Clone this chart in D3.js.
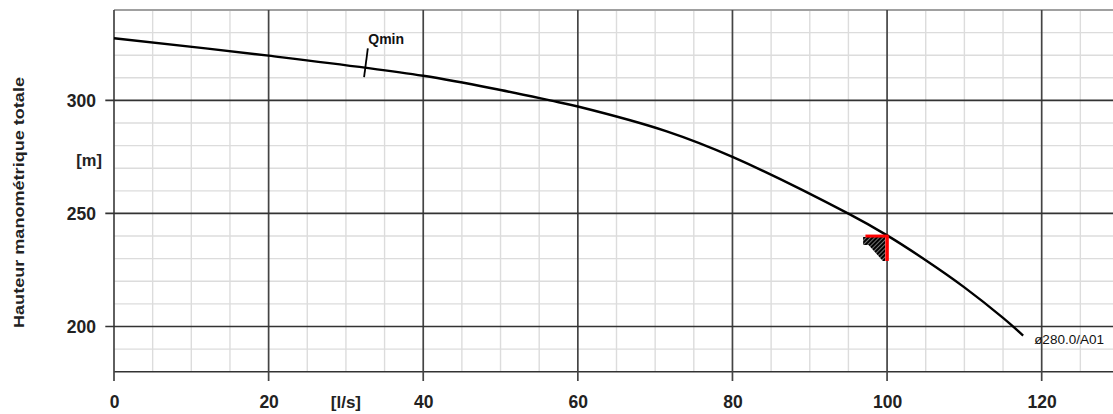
<!DOCTYPE html>
<html>
<head>
<meta charset="utf-8">
<script src="https://cdn.jsdelivr.net/npm/d3@7/dist/d3.min.js"></script>
<style>
  html, body { margin: 0; padding: 0; background: #fff; }
  svg { display: block; }
  text { font-family: "Liberation Sans", Arial, sans-serif; }
</style>
</head>
<body>
<svg id="chart" width="1113" height="414"></svg>
<script>
// ---- data ----
const flow = [0, 20, 40, 50, 56.4, 60, 71.5, 80, 95, 100, 105, 110, 115, 117.6];
const head = [327.5, 319.8, 310.9, 304.6, 300, 297.3, 286.3, 275.0, 249.9, 240.3, 229.3, 217.3, 203.8, 196.0];
const xMajorTicks = [0, 20, 40, 60, 80, 100, 120];
const xMinorTicks = [5, 10, 15, 25, 30, 35, 45, 50, 55, 65, 70, 75, 85, 90, 95, 105, 110, 115, 125, 130];
const yMajorTicks = [200, 250, 300];
const yMinorTicks = [190, 210, 220, 230, 240, 260, 270, 280, 290, 310, 320, 330];
const qminFlow = 32.5;
const qminLabel = "Qmin";
const curveLabel = "ø280.0/A01";
const yTitle = "Hauteur manométrique totale";
const opFlow = 100;
const opHead = 240;
const opRedFlowStart = 97.2;
const opRedHeadEnd = 229;
const hatchPoly = [[96.9, 239.6], [99.75, 239.6], [99.75, 229], [99.45, 229], [97.6, 236.1], [96.9, 236.1]];

(function () {
const svg = d3.select("#chart");
const mLeft = 114, mTop = 10, mBottom = 371.7, rightAt130 = 1119;
const x = d3.scaleLinear().domain([0, 130]).range([mLeft, rightAt130]);
const y = d3.scaleLinear().domain([180, 340]).range([mBottom, mTop]);

const defs = svg.append("defs");
const pat = defs.append("pattern").attr("id", "hatch").attr("patternUnits", "userSpaceOnUse")
  .attr("width", 3).attr("height", 3).attr("patternTransform", "rotate(45)");
pat.append("rect").attr("width", 3).attr("height", 3).attr("fill", "#000");
pat.append("line").attr("x1", 0).attr("y1", 0).attr("x2", 0).attr("y2", 3).attr("stroke", "#fff").attr("stroke-width", 0.9);

const g = svg.append("g");

// minor grid
g.selectAll(".vminor").data(xMinorTicks).join("line")
  .attr("x1", d => x(d)).attr("x2", d => x(d)).attr("y1", y(340)).attr("y2", y(180))
  .attr("stroke", "#dcdcdc").attr("stroke-width", 1.4);
g.selectAll(".hminor").data(yMinorTicks).join("line")
  .attr("x1", x(0)).attr("x2", x(130)).attr("y1", d => y(d)).attr("y2", d => y(d))
  .attr("stroke", "#dcdcdc").attr("stroke-width", 1.4);

// top border
g.append("line").attr("x1", x(0)).attr("x2", x(130)).attr("y1", y(340)).attr("y2", y(340))
  .attr("stroke", "#a0a0a0").attr("stroke-width", 2);
// bottom border
g.append("line").attr("x1", x(0)).attr("x2", x(130)).attr("y1", y(180)).attr("y2", y(180))
  .attr("stroke", "#333").attr("stroke-width", 1.6);

// major grid with ticks outside
g.selectAll(".vmajor").data(xMajorTicks).join("line")
  .attr("x1", d => x(d)).attr("x2", d => x(d)).attr("y1", y(340)).attr("y2", y(180) + 9.3)
  .attr("stroke", "#444").attr("stroke-width", 1.7);
g.selectAll(".hmajor").data(yMajorTicks).join("line")
  .attr("x1", x(0) - 8.7).attr("x2", x(130)).attr("y1", d => y(d)).attr("y2", d => y(d))
  .attr("stroke", "#333").attr("stroke-width", 1.7);

// axis labels via d3 axes (text only)
const xAxis = d3.axisBottom(x).tickValues(xMajorTicks).tickSize(0).tickPadding(0).tickFormat(d3.format("d"));
const xg = svg.append("g").attr("transform", `translate(0,${mBottom})`).call(xAxis);
xg.select(".domain").remove();
xg.selectAll("text").attr("dy", null).attr("y", 36.3)
  .attr("font-size", 17.5).attr("font-weight", "bold").attr("fill", "#222")
  .attr("font-family", '"Liberation Sans", Arial, sans-serif');

const yAxis = d3.axisLeft(y).tickValues(yMajorTicks).tickSize(0).tickPadding(0).tickFormat(d3.format("d"));
const yg = svg.append("g").attr("transform", `translate(${mLeft - 18},0)`).call(yAxis);
yg.select(".domain").remove();
yg.selectAll("text").attr("dy", "0.36em").attr("x", 0)
  .attr("font-size", 17.5).attr("font-weight", "bold").attr("fill", "#222")
  .attr("font-family", '"Liberation Sans", Arial, sans-serif');

// unit labels
svg.append("text").attr("x", x(30)).attr("y", mBottom + 36.3).attr("text-anchor", "middle")
  .attr("font-size", 17).attr("font-weight", "bold").attr("fill", "#222").text("[l/s]");
svg.append("text").attr("x", mLeft - 12).attr("y", 166).attr("text-anchor", "end")
  .attr("font-size", 16.5).attr("font-weight", "bold").attr("fill", "#222").text("[m]");

// y title
svg.append("text").attr("transform", `translate(24,202.5) rotate(-90)`).attr("text-anchor", "middle")
  .attr("font-size", 15).attr("font-weight", "bold").attr("fill", "#222")
  .attr("textLength", 251).attr("lengthAdjust", "spacingAndGlyphs")
  .text(yTitle);

// curve
const pts = flow.map((q, i) => [q, head[i]]);
const line = d3.line().x(d => x(d[0])).y(d => y(d[1])).curve(d3.curveCatmullRom.alpha(0.5));
svg.append("path").attr("d", line(pts)).attr("fill", "none").attr("stroke", "#000").attr("stroke-width", 2.4);

// Qmin marker (perpendicular tick on the curve)
const hq = d3.scaleLinear().domain(flow).range(head);
const qx = x(qminFlow), qy = y(hq(qminFlow));
const dx = x(qminFlow + 1) - x(qminFlow - 1), dy = y(hq(qminFlow + 1)) - y(hq(qminFlow - 1));
const len = Math.hypot(dx, dy), nx = -dy / len, ny = dx / len;
svg.append("line")
  .attr("x1", qx - nx * 20).attr("y1", qy - ny * 20)
  .attr("x2", qx + nx * 9).attr("y2", qy + ny * 9)
  .attr("stroke", "#000").attr("stroke-width", 1.8);
svg.append("text").attr("x", qx + 3).attr("y", 44).attr("font-size", 14).attr("font-weight", "bold")
  .attr("fill", "#111").text(qminLabel);

// operating point with tolerance hatch
svg.append("path").attr("d", "M" + hatchPoly.map(p => [x(p[0]), y(p[1])].join(",")).join("L") + "Z")
  .attr("fill", "url(#hatch)");
svg.append("line").attr("x1", x(opRedFlowStart)).attr("x2", x(opFlow) + 1.5)
  .attr("y1", y(opHead)).attr("y2", y(opHead)).attr("stroke", "#ff0000").attr("stroke-width", 3);
svg.append("line").attr("x1", x(opFlow)).attr("x2", x(opFlow))
  .attr("y1", y(opHead)).attr("y2", y(opRedHeadEnd)).attr("stroke", "#ff0000").attr("stroke-width", 3.5);

// curve label
const last = pts[pts.length - 1];
svg.append("text").attr("x", x(last[0]) + 11).attr("y", y(last[1]) + 8.5)
  .attr("font-size", 13.5).attr("fill", "#111").text(curveLabel);
})();
</script>
</body>
</html>
